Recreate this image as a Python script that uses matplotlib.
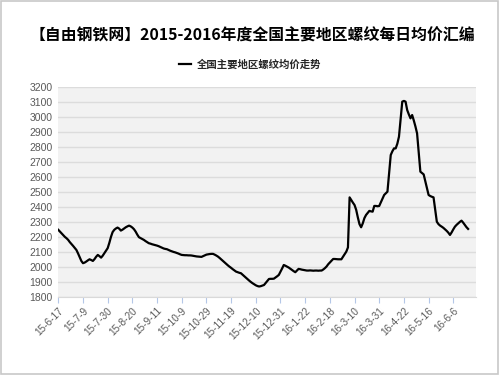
import matplotlib
matplotlib.use('Agg')
import matplotlib.pyplot as plt
from matplotlib.patches import Rectangle

plt.rcParams['font.family'] = ['Noto Sans CJK SC', 'DejaVu Sans']

# daily average rebar price (yuan/t), one value per trading day
prices = [
    2247, 2235, 2222, 2212, 2200, 2191, 2180, 2165, 2153, 2140,
    2127, 2113, 2090, 2065, 2040, 2025, 2029, 2036, 2044, 2051,
    2046, 2040, 2052, 2068, 2080, 2072, 2062, 2075, 2092, 2108,
    2125, 2160, 2200, 2232, 2247, 2256, 2262, 2255, 2242, 2248,
    2256, 2264, 2270, 2275, 2270, 2262, 2251, 2235, 2215, 2198,
    2192, 2186, 2180, 2172, 2165, 2158, 2155, 2151, 2148, 2145,
    2142, 2138, 2133, 2128, 2123, 2120, 2118, 2113, 2108, 2104,
    2100, 2097, 2093, 2089, 2084, 2080, 2079, 2078, 2078, 2077,
    2077, 2076, 2074, 2072, 2070, 2069, 2068, 2067, 2072, 2077,
    2082, 2084, 2086, 2087, 2087, 2082, 2076, 2069, 2060, 2050,
    2040, 2030, 2020, 2011, 2002, 1994, 1985, 1977, 1969, 1965,
    1961, 1958, 1948, 1938, 1928, 1918, 1909, 1900, 1892, 1885,
    1878, 1873, 1870, 1872, 1876, 1880, 1893, 1907, 1920, 1921,
    1921, 1922, 1930, 1938, 1947, 1968, 1990, 2013, 2008, 2002,
    1996, 1988, 1980, 1972, 1965, 1976, 1987, 1985, 1982, 1980,
    1978, 1976, 1976, 1977, 1976, 1975, 1976, 1976, 1975, 1976,
    1976, 1983, 1992, 2003, 2018, 2030, 2042, 2053, 2053, 2052,
    2051, 2051, 2051, 2068, 2085, 2102, 2130, 2463, 2445, 2428,
    2412, 2380, 2330, 2285, 2264, 2290, 2325, 2346, 2360, 2373,
    2370, 2368, 2406, 2406, 2404, 2406, 2430, 2455, 2479, 2490,
    2501, 2620, 2745, 2770, 2789, 2789, 2820, 2867, 2980, 3100,
    3105, 3100, 3044, 3015, 2989, 3011, 2975, 2935, 2889, 2760,
    2634, 2625, 2616, 2570, 2525, 2479, 2472, 2467, 2463, 2380,
    2301, 2285, 2275, 2268, 2260, 2250, 2240, 2228, 2213, 2230,
    2250, 2268, 2280, 2290, 2300, 2308, 2295, 2280, 2265, 2253,
]

# date labels shown every 15 trading days
tick_labels = ['15-6-17', '15-7-9', '15-7-30', '15-8-20', '15-9-11', '15-10-9',
               '15-10-29', '15-11-19', '15-12-10', '15-12-31', '16-1-22',
               '16-2-18', '16-3-10', '16-3-31', '16-4-22', '16-5-16', '16-6-6']
tick_step = 15
n_categories = 254

title = '【自由钢铁网】2015-2016年度全国主要地区螺纹每日均价汇编'
series_name = '全国主要地区螺纹均价走势'

fig = plt.figure(figsize=(5, 3.75), dpi=100)
fig.patch.set_facecolor('white')
fig.patches.append(Rectangle((0.002, 0.003), 0.994, 0.994, transform=fig.transFigure,
                             fill=False, edgecolor='#c8c8c8', linewidth=1.2))

ax = fig.add_axes([0.1166, 0.208, 0.8344, 0.561])
ax.set_facecolor('#f2f2f2')

x = list(range(len(prices)))
line, = ax.plot(x, prices, color='black', linewidth=1.6, solid_joinstyle='round')

ax.set_xlim(0, n_categories - 0.5)
ax.set_ylim(1800, 3200)
ax.set_yticks(range(1800, 3201, 100))
ax.yaxis.grid(True, color='#dcdcdc', linewidth=1.0)
ax.set_axisbelow(True)

ax.set_xticks([i * tick_step for i in range(len(tick_labels))])
ax.set_xticklabels(tick_labels, rotation=45, ha='right', rotation_mode='anchor',
                   fontsize=7.2, color='#595959', family=['Liberation Sans', 'DejaVu Sans'])
for lab in ax.get_yticklabels():
    lab.set_family(['Liberation Sans', 'DejaVu Sans'])
ax.tick_params(axis='y', length=0, labelsize=7.5, labelcolor='#595959', pad=4)
ax.tick_params(axis='x', length=4, width=0.8, color='#b4c7e7', pad=2)

for side in ['top', 'right', 'left']:
    ax.spines[side].set_visible(False)
ax.spines['bottom'].set_color('#d9d9d9')
ax.spines['bottom'].set_linewidth(0.8)

fig.text(0.504, 0.905, title, ha='center', va='center', fontsize=11.4,
         fontweight='bold', color='black')

leg = fig.legend([line], [series_name], loc='center', bbox_to_anchor=(0.5, 0.828),
                 frameon=False, fontsize=7.5, handlelength=1.2, handletextpad=0.5)
for t in leg.get_texts():
    t.set_color('#262626')
    t.set_fontweight('bold')

fig.savefig('out.png', dpi=100)
